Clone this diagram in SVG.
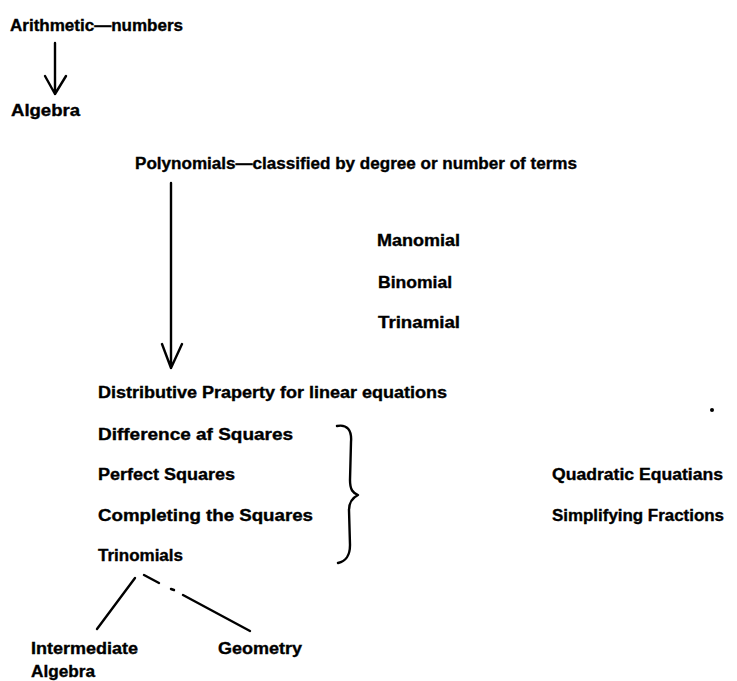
<svg xmlns="http://www.w3.org/2000/svg" width="737" height="681" viewBox="0 0 737 681">
<style>
text{font-family:"Liberation Sans",Arial,sans-serif;font-weight:bold;font-size:16px;fill:#000;stroke:#000;stroke-width:0.35}
.ln{stroke:#000;stroke-width:2.4;fill:none;stroke-linecap:round;stroke-linejoin:round}
</style>
<rect width="737" height="681" fill="#fff"/>
<g id="n-arith"><text x="10" y="31" textLength="173" lengthAdjust="spacingAndGlyphs">Arithmetic—numbers</text></g>
<g id="n-algebra"><text x="11" y="116" textLength="69" lengthAdjust="spacingAndGlyphs">Algebra</text></g>
<g id="n-poly"><text x="135" y="169" textLength="442" lengthAdjust="spacingAndGlyphs">Polynomials—classified by degree or number of terms</text></g>
<g id="n-mono"><text x="377" y="246" textLength="83" lengthAdjust="spacingAndGlyphs">Manomial</text></g>
<g id="n-bino"><text x="378" y="288" textLength="74" lengthAdjust="spacingAndGlyphs">Binomial</text></g>
<g id="n-trina"><text x="378" y="328" textLength="82" lengthAdjust="spacingAndGlyphs">Trinamial</text></g>
<g id="n-dist"><text x="98" y="398" textLength="349" lengthAdjust="spacingAndGlyphs">Distributive Praperty for linear equations</text></g>
<g id="n-diff"><text x="98" y="440" textLength="195" lengthAdjust="spacingAndGlyphs">Difference af Squares</text></g>
<g id="n-perf"><text x="98" y="480" textLength="137" lengthAdjust="spacingAndGlyphs">Perfect Squares</text></g>
<g id="n-comp"><text x="98" y="521" textLength="215" lengthAdjust="spacingAndGlyphs">Completing the Squares</text></g>
<g id="n-trin"><text x="98" y="561" textLength="85" lengthAdjust="spacingAndGlyphs">Trinomials</text></g>
<g id="n-quad"><text x="552" y="480" textLength="171" lengthAdjust="spacingAndGlyphs">Quadratic Equatians</text></g>
<g id="n-simp"><text x="552" y="521" textLength="172" lengthAdjust="spacingAndGlyphs">Simplifying Fractions</text></g>
<g id="n-inter"><text x="31" y="654" textLength="107" lengthAdjust="spacingAndGlyphs">Intermediate</text><text x="31" y="677" textLength="64" lengthAdjust="spacingAndGlyphs">Algebra</text></g>
<g id="n-geom"><text x="218" y="654" textLength="84" lengthAdjust="spacingAndGlyphs">Geometry</text></g>
<g id="connectors">
<path class="ln" d="M55,43 L55,94 M45,76 L55,94 L66,76"/>
<path class="ln" d="M171,183 L171,368 M162,344 L171,368 L182,344"/>
<path class="ln" d="M337,426 C347,424 352,430 351,442 L350,480 C350,490 353,493 358,495 C352,498 349,502 349,510 L350,545 C350,556 346,561 338,563"/>
<path class="ln" d="M135,578 L97,629"/>
<path class="ln" d="M144,575 L159,583 M171,589 L174,590 M183,595 L250,631"/>
</g>
<circle cx="712" cy="410" r="2" fill="#000"/>
</svg>
